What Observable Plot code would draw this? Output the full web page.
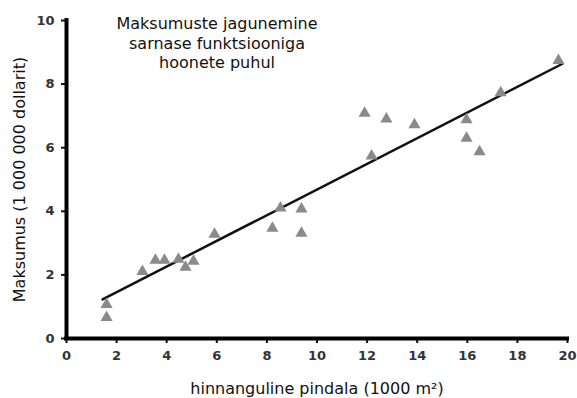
<!DOCTYPE html>
<html>
<head>
<meta charset="utf-8">
<script src="https://cdn.jsdelivr.net/npm/d3@7"></script>
<script src="https://cdn.jsdelivr.net/npm/@observablehq/plot@0.6"></script>
<style>
  html, body { margin: 0; padding: 0; background: #fff; }
  #chart { width: 577px; height: 398px; }
</style>
</head>
<body>
<div id="chart"></div>
<script>
// Observed buildings: area (1000 m²) and cost (1 000 000 dollars)
const area = [1.6, 1.6, 3.03, 3.55, 3.91, 4.47, 4.75, 5.07, 5.91, 8.22, 8.54, 9.38, 9.38,
              11.9, 12.18, 12.77, 13.89, 15.97, 15.97, 16.49, 17.33, 19.64];
const cost = [1.07, 0.66, 2.11, 2.46, 2.46, 2.49, 2.24, 2.43, 3.28, 3.47, 4.1, 4.07, 3.31,
              7.08, 5.74, 6.9, 6.72, 6.88, 6.3, 5.87, 7.73, 8.74];
// Fitted line endpoints
const fitX = [1.44, 19.8];
const fitY = [1.23, 8.64];
const xTicks = [0, 2, 4, 6, 8, 10, 12, 14, 16, 18, 20];
const yTicks = [0, 2, 4, 6, 8, 10];
const titleText = "Maksumuste jagunemine\nsarnase funktsiooniga\nhoonete puhul";
const xLabel = "hinnanguline pindala (1000 m²)";
const yLabel = "Maksumus (1 000 000 dollarit)";

const points = area.map((x, i) => ({x, y: cost[i]}));
const fit = fitX.map((x, i) => ({x, y: fitY[i]}));

const chart = Plot.plot({
  width: 577,
  height: 398,
  marginLeft: 66,
  marginRight: 10,
  marginTop: 20,
  marginBottom: 60,
  style: {fontFamily: "DejaVu Sans", background: "#fff", color: "#000"},
  x: {domain: [0, 20]},
  y: {domain: [0, 10]},
  marks: [
    Plot.axisX({ticks: xTicks, tickSize: 5, tickPadding: 7, fontSize: 13, fontWeight: "bold",
      fill: "#333", stroke: "#111", strokeWidth: 2, label: xLabel, labelAnchor: "center", labelArrow: "none",
      labelOffset: 55}),
    Plot.axisY({ticks: yTicks, tickSize: 5, tickPadding: 7, fontSize: 13, fontWeight: "bold",
      fill: "#333", stroke: "#111", strokeWidth: 2, label: yLabel, labelAnchor: "center", labelArrow: "none",
      labelOffset: 53}),
    Plot.ruleX([0], {stroke: "#000", strokeWidth: 4, strokeLinecap: "square"}),
    Plot.ruleY([0], {stroke: "#000", strokeWidth: 4, strokeLinecap: "square"}),
    Plot.line(fit, {x: "x", y: "y", stroke: "#111", strokeWidth: 2.5}),
    Plot.dot(points, {x: "x", y: "y", symbol: "triangle", r: 4.5, fill: "#8a8a8a", stroke: "none"}),
    Plot.text([titleText], {frameAnchor: "top", dx: -100, dy: -5, lineAnchor: "top",
      textAnchor: "middle", fontSize: 16, lineHeight: 1.22, fill: "#111"})
  ]
});
// axis label font size
chart.querySelectorAll("g[aria-label='x-axis label'] text, g[aria-label='y-axis label'] text")
  .forEach(t => { t.setAttribute("font-size", 16); t.setAttribute("font-weight", "normal"); t.setAttribute("fill", "#111"); });
document.getElementById("chart").appendChild(chart);
</script>
</body>
</html>
